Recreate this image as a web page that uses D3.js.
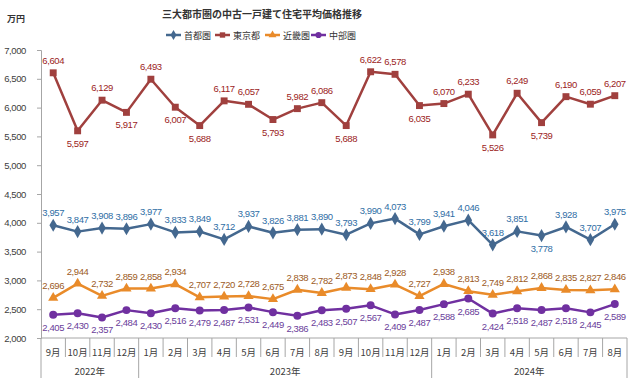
<!DOCTYPE html>
<html><head><meta charset="utf-8">
<script src="https://cdn.jsdelivr.net/npm/d3@7"></script>
<style>
body{margin:0;background:#fff;}
svg{display:block;}
</style></head>
<body>
<svg id="c" width="640" height="383"></svg>
<script>
const months = ["9月","10月","11月","12月","1月","2月","3月","4月","5月","6月","7月","8月","9月","10月","11月","12月","1月","2月","3月","4月","5月","6月","7月","8月"];
const years = [{label:"2022年", start:0, end:4},{label:"2023年", start:4, end:16},{label:"2024年", start:16, end:24}];
const yTicks = [2000,2500,3000,3500,4000,4500,5000,5500,6000,6500,7000];
const shutoken = [3957,3847,3908,3896,3977,3833,3849,3712,3937,3826,3881,3890,3793,3990,4073,3799,3941,4046,3618,3851,3778,3928,3707,3975];
const tokyo = [6604,5597,6129,5917,6493,6007,5688,6117,6057,5793,5982,6086,5688,6622,6578,6035,6070,6233,5526,6249,5739,6190,6059,6207];
const kinki = [2696,2944,2732,2859,2858,2934,2707,2720,2728,2675,2838,2782,2873,2848,2928,2727,2938,2813,2749,2812,2868,2835,2827,2846];
const chubu = [2405,2430,2357,2484,2430,2516,2479,2487,2531,2449,2386,2483,2507,2567,2409,2487,2588,2685,2424,2518,2487,2518,2445,2589];
// label side: 1 = above, -1 = below
const tokyoSide = [1,-1,1,-1,1,-1,-1,1,1,-1,1,1,-1,1,1,-1,1,1,-1,1,-1,1,1,1];
const shutokenSide = [1,1,1,1,1,1,1,1,1,1,1,1,1,1,1,1,1,1,1,1,-1,1,1,1];

const series = [
  {name:"首都圏", values:shutoken, side:shutokenSide, color:"#44688f", text:"#2f6ea5", symbol:d3.symbolDiamond, size:50},
  {name:"東京都", values:tokyo, side:tokyoSide, color:"#a0403e", text:"#9b1c1c", symbol:d3.symbolSquare, size:48},
  {name:"近畿圏", values:kinki, side:kinki.map(()=>1), color:"#e98b2a", text:"#9c5b1e", symbol:d3.symbolTriangle, size:45},
  {name:"中部圏", values:chubu, side:chubu.map(()=>-1), color:"#7030a0", text:"#6a3d9a", symbol:d3.symbolCircle, size:50}
];

const svg = d3.select("#c");
const font = "'Liberation Sans',Arial,sans-serif";
const jfont = "'Noto Sans CJK JP',sans-serif";
const L = 41, R = 627, T = 50, B = 338;
const x = d3.scaleBand().domain(d3.range(months.length)).range([L, R]).padding(0);
const y = d3.scaleLinear().domain([2000,7000]).range([B, T]);
const cx = i => x(i) + x.bandwidth()/2;

// title
svg.append("text").attr("x", 262).attr("y", 18).attr("text-anchor","middle")
  .style("font-family", jfont).style("font-size","10px").style("font-weight","bold").attr("fill","#333")
  .text("三大都市圏の中古一戸建て住宅平均価格推移");
svg.append("text").attr("x", 7).attr("y", 22)
  .style("font-family", jfont).style("font-size","9px").style("font-weight","bold").attr("fill","#333")
  .text("万円");

// legend
const legX = [166, 215, 265, 311];
series.forEach((s, k) => {
  const g = svg.append("g").attr("transform", `translate(${legX[k]},35)`);
  g.append("line").attr("x1",0).attr("x2",15).attr("y1",0).attr("y2",0).attr("stroke",s.color).attr("stroke-width",2.5);
  g.append("path").attr("d", d3.symbol().type(s.symbol).size(s.size*0.6)()).attr("transform","translate(7.5,0)").attr("fill",s.color);
  g.append("text").attr("x",18).attr("y",3.5).style("font-family",jfont).style("font-size","9px").attr("fill","#333").text(s.name);
});

// y axis
const yAxis = d3.axisLeft(y).tickValues(yTicks).tickFormat(d3.format(",")).tickSize(4).tickPadding(11);
const ya = svg.append("g").attr("transform",`translate(${L},0)`).call(yAxis);
ya.select(".domain").attr("stroke","#a6a6a6");
ya.selectAll(".tick line").attr("stroke","#a6a6a6");
ya.selectAll(".tick text").style("font-family",font).style("font-size","9.5px").style("letter-spacing","-0.4px").attr("fill","#404040");

// x axis
const xa = svg.append("g");
xa.append("line").attr("x1",L).attr("x2",R).attr("y1",B).attr("y2",B).attr("stroke","#a6a6a6");
d3.range(months.length+1).forEach(i => {
  const xx = i < months.length ? x(i) : R;
  const isYear = years.some(yr => yr.start === i) || i === months.length;
  xa.append("line").attr("x1",xx).attr("x2",xx).attr("y1",B).attr("y2", isYear ? 378 : 357).attr("stroke","#a6a6a6");
});
xa.selectAll("text.m").data(months).enter().append("text").attr("class","m")
  .attr("x",(d,i)=>cx(i)).attr("y",356).attr("text-anchor","middle")
  .style("font-family",jfont).style("font-size","9.5px").attr("fill","#404040").text(d=>d);
xa.selectAll("text.yr").data(years).enter().append("text").attr("class","yr")
  .attr("x",d=>(x(d.start) + (d.end < months.length ? x(d.end) : R))/2).attr("y",375).attr("text-anchor","middle")
  .style("font-family",jfont).style("font-size","9.5px").attr("fill","#404040").text(d=>d.label);

// series
series.forEach(s => {
  const line = d3.line().x((d,i)=>cx(i)).y(d=>y(d));
  svg.append("path").datum(s.values).attr("d", line).attr("fill","none").attr("stroke",s.color).attr("stroke-width",2.5).attr("stroke-linejoin","round");
  svg.selectAll(null).data(s.values).enter().append("path")
    .attr("d", d3.symbol().type(s.symbol).size(s.size)())
    .attr("transform",(d,i)=>`translate(${cx(i)},${y(d)})`).attr("fill",s.color);
  svg.selectAll(null).data(s.values).enter().append("text")
    .attr("x",(d,i)=>cx(i)).attr("y",(d,i)=> s.side[i] > 0 ? y(d)-9 : y(d)+16)
    .attr("text-anchor","middle").style("font-family",font).style("font-size","9.5px").style("letter-spacing","-0.4px").attr("fill",s.text)
    .text(d=>d3.format(",")(d));
});
</script>
</body></html>
